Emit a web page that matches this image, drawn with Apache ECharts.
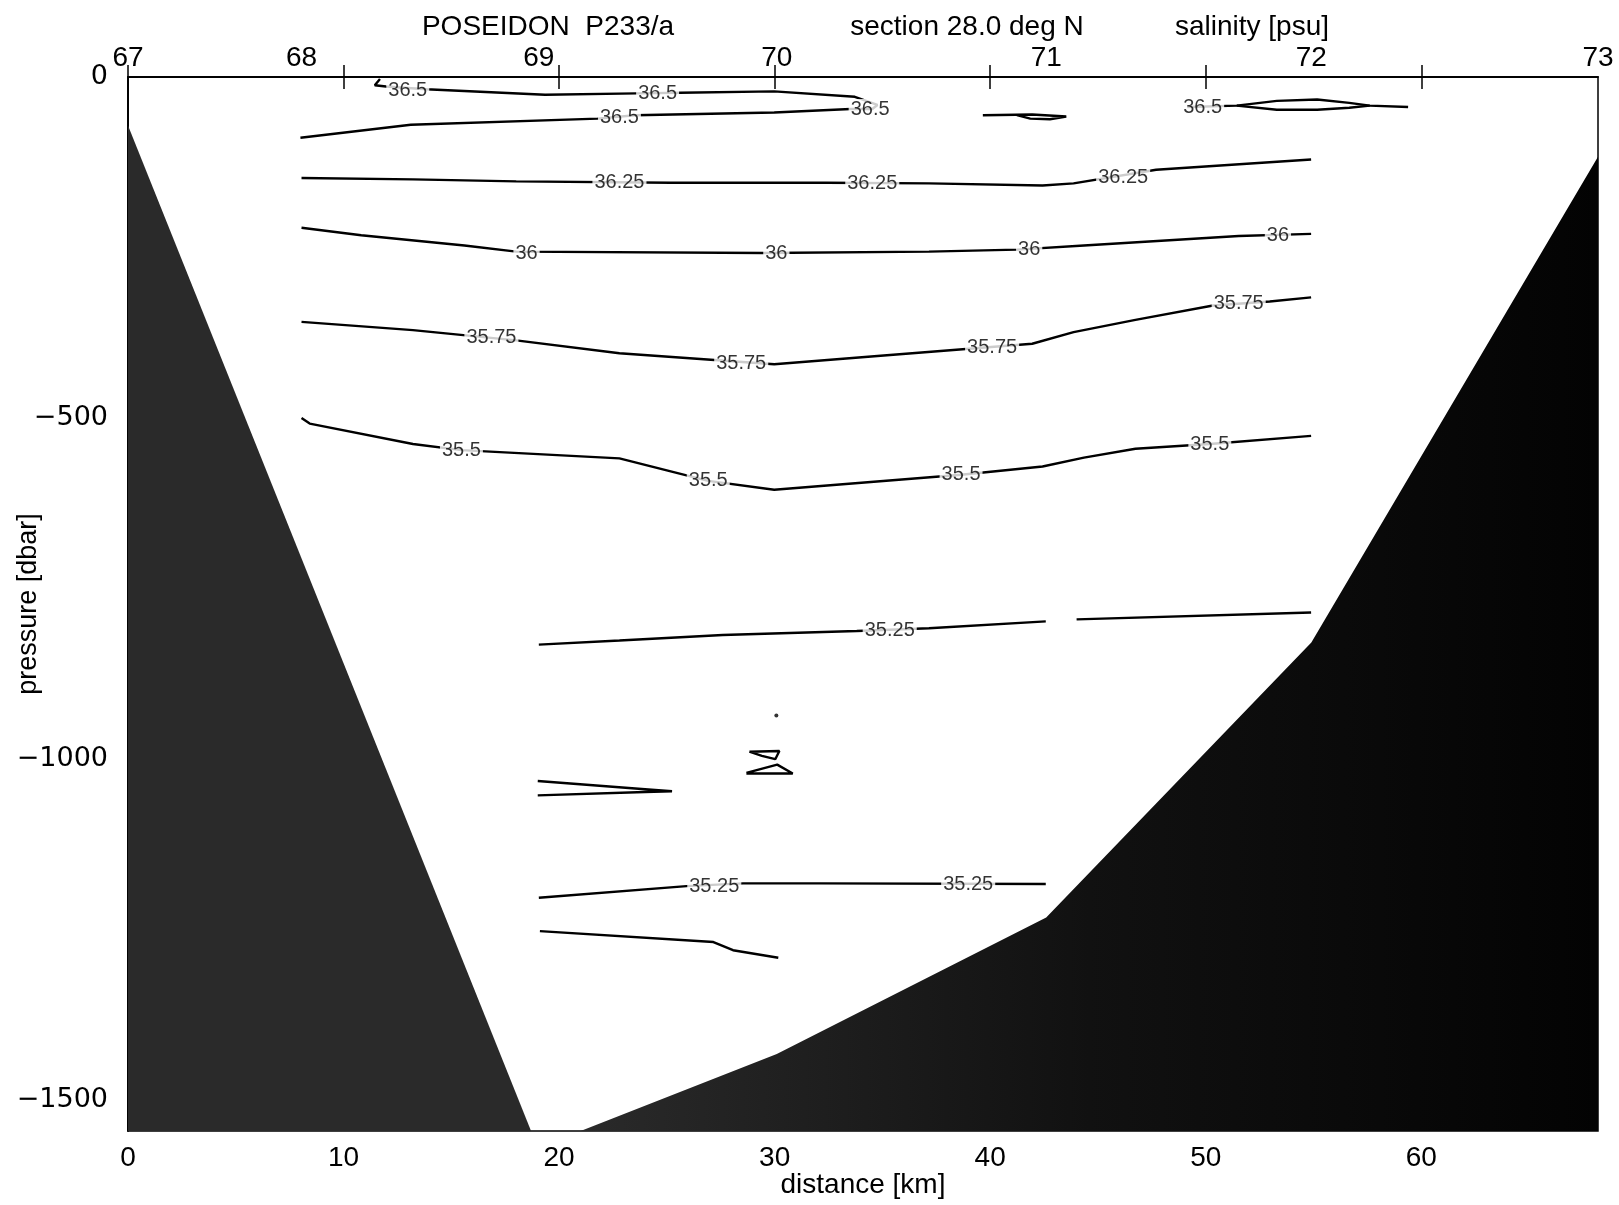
<!DOCTYPE html>
<html>
<head>
<meta charset="utf-8">
<title>POSEIDON P233/a salinity section</title>
<script src="https://cdn.jsdelivr.net/npm/echarts@6.0.0/dist/echarts.min.js"></script>
<style>
  html, body { margin: 0; padding: 0; background: #fff; }
  #chart { width: 1619px; height: 1205px; }
</style>
</head>
<body>
<div id="chart"></div>
<script>
// stations along the section (km) and their numbers on the top axis
var stationKm = [0, 8.05, 19.06, 30.1, 42.6, 54.9, 68.2];
var stationNames = ['67', '68', '69', '70', '71', '72', '73'];
var distanceTicks = [0, 10, 20, 30, 40, 50, 60];
var topTicks = [10, 20, 30, 40, 50, 60];
var pressureTicks = [0, -500, -1000, -1500];

// sea floor, [km, dbar]
var bottomLeft = [[0, -71], [18.7, -1545]];
var bottomRight = [[21.0, -1545], [30.1, -1432], [42.6, -1232], [54.9, -829], [68.2, -117]];

var s365a = [[11.69, -3], [11.45, -12], [11.97, -14], [13.84, -18], [19.35, -26], [23.61, -24], [25.62, -23], [29.98, -21], [33.72, -29], [34.77, -41], [34.53, -47], [33.52, -47], [29.98, -52], [23.52, -56], [21.79, -61], [13.12, -70], [8.0, -89]];
var s365b = [[39.66, -56], [41.95, -55], [43.53, -58], [42.77, -62], [41.86, -61], [41.24, -56]];
var s365c = [[49.14, -44], [51.44, -42], [53.3, -35], [55.17, -33], [56.66, -38], [57.61, -42], [59.39, -44]];
var s365d = [[51.44, -42], [53.3, -48], [55.17, -48], [56.66, -45], [57.61, -42]];
var s3625 = [[8.05, -148], [13.22, -150], [18.01, -153], [25.19, -155], [32.38, -155], [37.16, -156], [42.43, -159], [43.87, -156], [47.7, -136], [54.89, -121]];
var s36 = [[8.05, -221], [10.82, -232], [15.61, -247], [18.01, -256], [29.5, -258], [37.16, -256], [41.24, -253], [44.35, -247], [51.53, -233], [54.89, -230]];
var s3575 = [[8.05, -359], [13.22, -371], [18.01, -386], [22.8, -405], [29.98, -421], [34.77, -409], [41.95, -391], [43.87, -374], [46.74, -356], [50.34, -335], [52.97, -329], [54.89, -323]];
var s355 = [[8.05, -500], [8.43, -508], [13.22, -538], [15.47, -547], [22.8, -559], [26.92, -592], [29.98, -605], [38.65, -583], [42.43, -571], [44.35, -558], [46.74, -545], [50.19, -538], [54.89, -526]];
var s3525a = [[19.06, -832], [22.8, -826], [27.59, -818], [33.81, -812], [37.16, -808], [42.58, -798]];
var s3525b = [[44.01, -795], [54.89, -785]];
var bowTop = [[28.83, -989], [30.22, -988], [30.03, -1000], [29.41, -995], [28.83, -989]];
var bowBot = [[28.69, -1020], [30.12, -1008], [30.84, -1021], [28.69, -1021]];
var wedge = [[19.01, -1032], [23.99, -1044], [25.24, -1047], [23.99, -1048], [19.01, -1053]];
var s3525c = [[19.06, -1203], [25.91, -1186], [28.54, -1182], [32.09, -1182], [42.58, -1183]];
var lowLine = [[19.11, -1252], [27.16, -1268], [28.07, -1280], [30.17, -1291]];
var dotPts = [[30.08, -936]];

// contour labels [km, dbar, text]
var labelPts = [
  [12.98, -20, '36.5'], [24.57, -24, '36.5'], [22.8, -59, '36.5'], [34.43, -47, '36.5'], [49.86, -44, '36.5'],
  [22.8, -155, '36.25'], [34.53, -156, '36.25'], [46.17, -147, '36.25'],
  [18.49, -258, '36'], [30.08, -258, '36'], [41.81, -253, '36'], [53.35, -232, '36'],
  [16.86, -382, '35.75'], [28.45, -420, '35.75'], [40.09, -397, '35.75'], [51.53, -332, '35.75'],
  [15.47, -547, '35.5'], [26.92, -592, '35.5'], [38.65, -583, '35.5'], [50.19, -538, '35.5'],
  [35.34, -812, '35.25'], [27.2, -1186, '35.25'], [38.98, -1183, '35.25']
];

var font = 'Liberation Sans';

function contour(data) {
    return {
        type: 'line',
        data: data,
        symbol: 'none',
        silent: true,
        z: 3,
        lineStyle: { color: '#000', width: 2.4 }
    };
}

function seabed(data, color) {
    return {
        type: 'line',
        data: data,
        symbol: 'none',
        silent: true,
        z: 2,
        lineStyle: { width: 0 },
        areaStyle: { origin: 'start', color: color, opacity: 1 }
    };
}

var series = [
    seabed(bottomLeft, '#2a2a2a'),
    seabed(bottomRight, {
        type: 'linear', x: 0, y: 0, x2: 1, y2: 0,
        colorStops: [{ offset: 0, color: '#2a2a2a' }, { offset: 0.5, color: '#111' }, { offset: 1, color: '#030303' }]
    })
];
[s365a, s365b, s365c, s365d, s3625, s36, s3575, s355, s3525a, s3525b,
 bowTop, bowBot, wedge, s3525c, lowLine].forEach(function (d) {
    series.push(contour(d));
});
series.push({
    type: 'scatter',
    data: dotPts,
    symbolSize: 4,
    itemStyle: { color: '#000' },
    silent: true,
    z: 3
});
series.push({
    type: 'scatter',
    data: labelPts.map(function (p) { return { value: [p[0], p[1]], name: p[2] }; }),
    symbolSize: 0,
    silent: true,
    z: 5,
    label: {
        show: true,
        position: 'inside',
        formatter: '{b}',
        color: '#000',
        fontFamily: font,
        fontSize: 20,
        backgroundColor: '#fff',
        padding: [0, 2]
    }
});

var titleStyle = { fontFamily: font, fontSize: 28, fontWeight: 'normal', color: '#000' };

var option = {
    animation: false,
    backgroundColor: '#fff',
    title: [
        { text: 'POSEIDON  P233/a', left: 543, top: 8, textAlign: 'center', textStyle: titleStyle },
        { text: 'section 28.0 deg N', left: 962, top: 8, textAlign: 'center', textStyle: titleStyle },
        { text: 'salinity [psu]', left: 1247, top: 8, textAlign: 'center', textStyle: titleStyle }
    ],
    grid: {
        left: 128, right: 21, top: 77, bottom: 74,
        containLabel: false,
        outerBoundsMode: 'none',
        show: true,
        borderColor: '#000',
        borderWidth: 1.5,
        backgroundColor: '#fff'
    },
    xAxis: [{
        type: 'value',
        min: 0,
        max: 68.2,
        name: 'distance [km]',
        nameLocation: 'middle',
        nameGap: 40,
        nameMoveOverlap: false,
        nameTextStyle: { fontFamily: font, fontSize: 28, color: '#000' },
        axisLine: { lineStyle: { color: '#000', width: 1.5 } },
        axisTick: { inside: true, length: 12, customValues: distanceTicks, lineStyle: { color: '#000', width: 1.5 } },
        axisLabel: { customValues: distanceTicks, margin: 13, fontFamily: font, fontSize: 28, color: '#000' },
        splitLine: { show: false }
    }, {
        type: 'value',
        position: 'top',
        min: 0,
        max: 68.2,
        axisLine: { lineStyle: { color: '#000', width: 1.5 } },
        axisTick: { inside: true, length: 12, customValues: topTicks, lineStyle: { color: '#000', width: 1.5 } },
        axisLabel: {
            customValues: stationKm,
            margin: 5,
            fontFamily: font, fontSize: 28, color: '#000',
            formatter: function (v) {
                var best = 0;
                for (var i = 1; i < stationKm.length; i++) {
                    if (Math.abs(stationKm[i] - v) < Math.abs(stationKm[best] - v)) best = i;
                }
                return stationNames[best];
            }
        },
        splitLine: { show: false }
    }],
    yAxis: [{
        type: 'value',
        min: -1545,
        max: 0,
        name: 'pressure [dbar]',
        nameLocation: 'middle',
        nameGap: 86,
        nameMoveOverlap: false,
        nameTextStyle: { fontFamily: font, fontSize: 27, color: '#000' },
        axisLine: { show: true, lineStyle: { color: '#000', width: 1.5 } },
        axisTick: { show: true, inside: true, length: 10, customValues: pressureTicks, lineStyle: { color: '#000' } },
        axisLabel: {
            customValues: pressureTicks,
            margin: 20,
            fontFamily: 'DejaVu Sans', fontSize: 27, color: '#000',
            formatter: function (v) { return String(v).replace('-', '\u2212'); }
        },
        splitLine: { show: false }
    }, {
        type: 'value',
        position: 'right',
        min: -1545,
        max: 0,
        axisLine: { show: true, lineStyle: { color: '#000', width: 1.5 } },
        axisTick: { show: false },
        axisLabel: { show: false },
        splitLine: { show: false }
    }],
    series: series
};

var myChart = echarts.init(document.getElementById('chart'));
myChart.setOption(option, true);
</script>
</body>
</html>
